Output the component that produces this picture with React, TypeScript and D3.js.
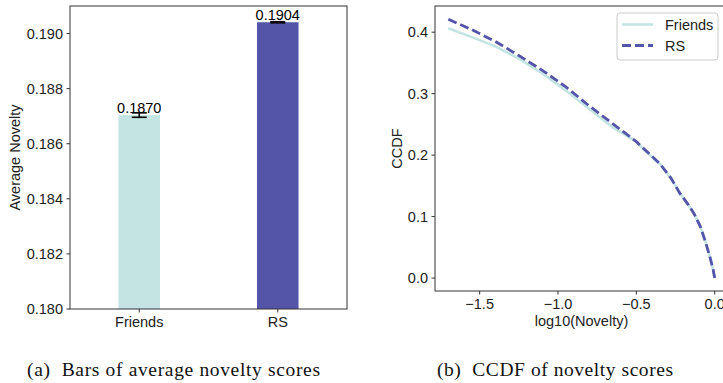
import React from 'react';
import * as d3 from 'd3';

// bar panel
const groups = ['Friends', 'RS'];
const avgNovelty = [0.18704, 0.19041];
const avgErr = [0.00008, 0.00002];
const barLabels = ['0.1870', '0.1904'];
const barTicks = [0.18, 0.182, 0.184, 0.186, 0.188, 0.19];

// ccdf panel
const logNovelty = [-1.7, -1.55, -1.4, -1.25, -1.1, -0.95, -0.8, -0.65, -0.5, -0.45, -0.35, -0.28, -0.22, -0.17, -0.13, -0.09, -0.06, -0.03, -0.01, 0.0];
const ccdfFriends = [0.4065, 0.392, 0.377, 0.357, 0.333, 0.305, 0.275, 0.245, 0.222, 0.208, 0.186, 0.163, 0.137, 0.12, 0.104, 0.083, 0.06, 0.034, 0.014, 0.0];
const ccdfRS = [0.421, 0.404, 0.385, 0.362, 0.338, 0.311, 0.28, 0.251, 0.222, 0.21, 0.186, 0.163, 0.137, 0.12, 0.104, 0.083, 0.06, 0.034, 0.014, 0.0];
const ccdfXTicks = [-1.5, -1.0, -0.5, 0.0];
const ccdfYTicks = [0.0, 0.1, 0.2, 0.3, 0.4];

const captions = ['(a)  Bars of average novelty scores', '(b)  CCDF of novelty scores'];

const colors = ['#c4e3e3', '#5454a8'];
const font = '"Liberation Sans", Arial, sans-serif';
const serif = '"Liberation Serif", "Times New Roman", serif';
const fs = 14.5;
const ink = '#222';
const spine = '#333';

const minus = (v: number, d: number) => v.toFixed(d).replace('-', '\u2212');

const App: React.FC = () => {
  const xL = d3.scaleLinear().domain([-0.5, 1.5]).range([70, 347]);
  const yL = d3.scaleLinear().domain([0.18, 0.191]).range([309, 6]);
  const barW = xL(0.15) - xL(-0.15);

  const xR = d3.scaleLinear().domain([-1.785, 0.085]).range([435, 728]);
  const yR = d3.scaleLinear().domain([-0.021, 0.4426]).range([291, 6]);
  const line = d3
    .line<number>()
    .x((_, i) => xR(logNovelty[i]))
    .y((d) => yR(d));

  const [l0, l1] = yL.range();
  const [r0, r1] = yR.range();

  return (
    <div style={{ position: 'absolute', left: 0, top: 0 }}>
      <svg width={723} height={383} style={{ display: 'block', background: '#fff' }} fontFamily={font}>
        {/* (a) bars */}
        <g>
          {avgNovelty.map((v, i) => (
            <rect key={groups[i]} x={xL(i) - barW / 2} y={yL(v)} width={barW} height={yL(0.18) - yL(v)} fill={colors[i]} />
          ))}
          {avgNovelty.map((v, i) => (
            <g key={'e' + i} stroke="#000" strokeWidth={1.6}>
              <line x1={xL(i)} x2={xL(i)} y1={yL(v - avgErr[i])} y2={yL(v + avgErr[i])} />
              <line x1={xL(i) - 7.5} x2={xL(i) + 7.5} y1={yL(v - avgErr[i])} y2={yL(v - avgErr[i])} />
              <line x1={xL(i) - 7.5} x2={xL(i) + 7.5} y1={yL(v + avgErr[i])} y2={yL(v + avgErr[i])} />
            </g>
          ))}
          {avgNovelty.map((v, i) => (
            <text key={'t' + i} x={xL(i)} y={yL(v) - 2.5} textAnchor="middle" fontSize={fs} fill="#000">
              {barLabels[i]}
            </text>
          ))}
          <rect x={70} y={l1} width={277} height={l0 - l1} fill="none" stroke={spine} strokeWidth={1} />
          {barTicks.map((t) => (
            <g key={t}>
              <line x1={66.5} x2={70} y1={yL(t)} y2={yL(t)} stroke={spine} />
              <text x={63} y={yL(t)} dy="0.35em" textAnchor="end" fontSize={fs} fill={ink}>
                {t.toFixed(3)}
              </text>
            </g>
          ))}
          {groups.map((g, i) => (
            <g key={g}>
              <line x1={xL(i)} x2={xL(i)} y1={309} y2={312.5} stroke={spine} />
              <text x={xL(i)} y={327} textAnchor="middle" fontSize={fs} fill={ink}>
                {g}
              </text>
            </g>
          ))}
          <text transform={`translate(20,${(l0 + l1) / 2}) rotate(-90)`} textAnchor="middle" fontSize={fs} fill={ink}>
            Average Novelty
          </text>
        </g>

        {/* (b) ccdf */}
        <g>
          <path d={line(ccdfFriends) || ''} fill="none" stroke={colors[0]} strokeWidth={2.6} />
          <path d={line(ccdfRS) || ''} fill="none" stroke={colors[1]} strokeWidth={2.8} strokeDasharray="9,4" />
          <rect x={435} y={r1} width={293} height={r0 - r1} fill="none" stroke={spine} strokeWidth={1} />
          {ccdfYTicks.map((t) => (
            <g key={t}>
              <line x1={431.5} x2={435} y1={yR(t)} y2={yR(t)} stroke={spine} />
              <text x={428} y={yR(t)} dy="0.35em" textAnchor="end" fontSize={fs} fill={ink}>
                {t.toFixed(1)}
              </text>
            </g>
          ))}
          {ccdfXTicks.map((t) => (
            <g key={t}>
              <line x1={xR(t)} x2={xR(t)} y1={291} y2={294.5} stroke={spine} />
              <text x={xR(t)} y={309} textAnchor="middle" fontSize={fs} fill={ink}>
                {minus(t, 1)}
              </text>
            </g>
          ))}
          <text x={(435 + 728) / 2} y={326} textAnchor="middle" fontSize={fs} fill={ink}>
            log10(Novelty)
          </text>
          <text transform={`translate(402,${(r0 + r1) / 2}) rotate(-90)`} textAnchor="middle" fontSize={fs} fill={ink}>
            CCDF
          </text>
          <g>
            <rect x={617} y={13} width={101} height={47} rx={3} fill="#fff" fillOpacity={0.8} stroke="#ccc" />
            <line x1={622} x2={653} y1={24.5} y2={24.5} stroke={colors[0]} strokeWidth={2.6} />
            <line x1={622} x2={653} y1={45.5} y2={45.5} stroke={colors[1]} strokeWidth={2.8} strokeDasharray="9,4" />
            <text x={665} y={24.5} dy="0.35em" fontSize={fs} fill={ink}>
              {groups[0]}
            </text>
            <text x={665} y={45.5} dy="0.35em" fontSize={fs} fill={ink}>
              {groups[1]}
            </text>
          </g>
        </g>

        {/* captions */}
        <text x={27} y={376} fontFamily={serif} fontSize={19.5} fill="#111" textLength={293} lengthAdjust="spacing" xmlSpace="preserve">
          {captions[0]}
        </text>
        <text x={437} y={376} fontFamily={serif} fontSize={19.5} fill="#111" textLength={236} lengthAdjust="spacing" xmlSpace="preserve">
          {captions[1]}
        </text>
      </svg>
    </div>
  );
};

export default App;
